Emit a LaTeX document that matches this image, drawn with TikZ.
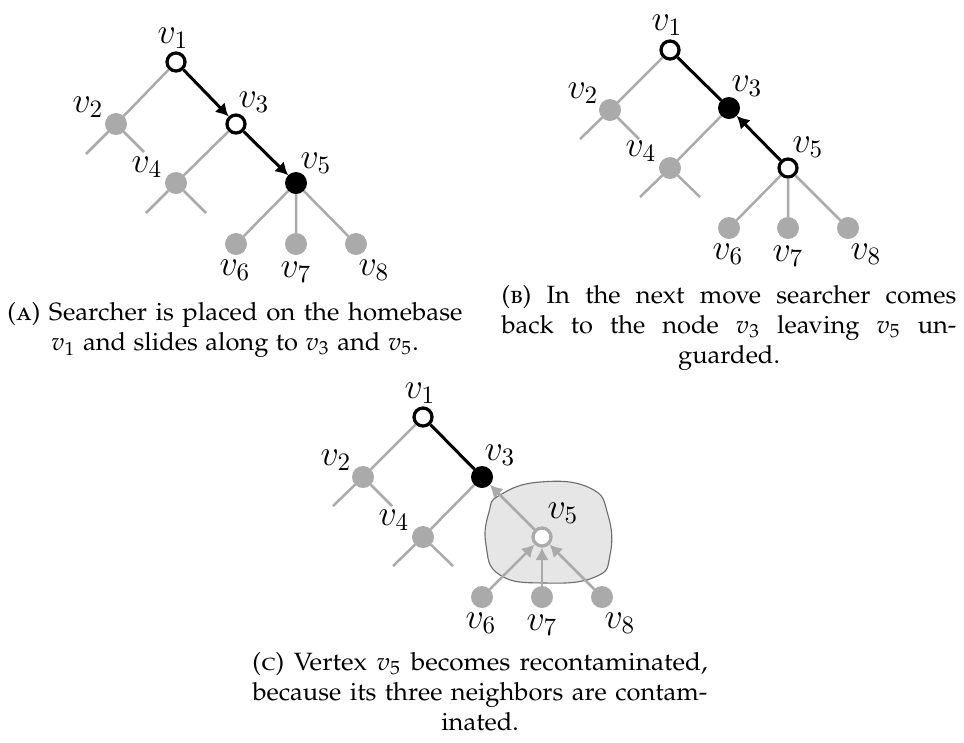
\documentclass[tikz,border=0pt]{standalone}
\usepackage[T1]{fontenc}
\usepackage[sc]{mathpazo}
\usetikzlibrary{arrows.meta}
% Computer Modern math italic for the vertex labels of the trees
\DeclareMathAlphabet{\cmit}{OML}{cmm}{m}{it}
\DeclareMathAlphabet{\cmup}{OT1}{cmr}{m}{n}
\newcommand\vlab[1]{$\cmit{v}_{\cmup{#1}}$}
% a justified caption line: set to width #2, then widened by factor #1 (about 182pt overall)
\newcommand\jline[3]{\scalebox{#1}[1]{\makebox[#2][s]{#3}}}
\definecolor{contam}{RGB}{170,170,170}
\definecolor{blobfill}{RGB}{230,230,230}
\definecolor{blobline}{RGB}{110,110,110}
\tikzset{
  vert/.style={circle, inner sep=0pt, outer sep=0pt, minimum size=8.8pt},
  dirty/.style={vert, fill=contam},
  guard/.style={vert, fill=black},
  clearv/.style={circle, inner sep=0pt, outer sep=0.65pt, minimum size=7.2pt,
                 draw=black, line width=1.3pt, fill=white},
  recont/.style={clearv, draw=contam},
  lbl/.style={inner sep=0pt, font=\fontsize{13.5}{16}\selectfont},
  gedge/.style={draw=contam, line width=1pt},
  bedge/.style={draw=black, line width=1.2pt},
  tipped/.style={-{Latex[length=5pt,width=5.5pt]}},
  blob/.style={draw=blobline, fill=blobfill, line width=0.45pt},
  capt/.style={inner sep=0pt, anchor=north, align=center,
               font=\fontsize{10}{12}\selectfont},
}
\begin{document}
\begin{tikzpicture}[x=0.4pt, y=-0.4pt]
\useasboundingbox (0,0) rectangle (964,742);

% ---------- (a) searcher slides from v1 to v5 ----------
\begin{scope}[shift={(176,62)}]
  \node[clearv] (a1) at (0,0) {};
  \node[dirty]  (a2) at (-60,62) {};
  \node[clearv] (a3) at (60,62) {};
  \node[dirty]  (a4) at (0,121) {};
  \node[guard]  (a5) at (120,121) {};
  \node[dirty]  (a6) at (60,182) {};
  \node[dirty]  (a7) at (120,182) {};
  \node[dirty]  (a8) at (180,182) {};
  \coordinate (a2l) at (-90,92);
  \coordinate (a2r) at (-32,90);
  \coordinate (a4l) at (-30,151);
  \coordinate (a4r) at (30,151);
  \draw[gedge] (a1) -- (a2) (a2) -- (a2l) (a2) -- (a2r)
               (a3) -- (a4) (a4) -- (a4l) (a4) -- (a4r)
               (a5) -- (a6) (a5) -- (a7) (a5) -- (a8);
  \draw[bedge, tipped] (a1) -- (a3);
  \draw[bedge, tipped] (a3) -- (a5);
  \node[lbl] (a1t) at (-3,-24) {\vlab1};
  \node[lbl] (a2t) at (-88,45) {\vlab2};
  \node[lbl] (a3t) at (78,40) {\vlab3};
  \node[lbl] (a4t) at (-29,105) {\vlab4};
  \node[lbl] (a5t) at (140,101) {\vlab5};
  \node[lbl] (a6t) at (59,208) {\vlab6};
  \node[lbl] (a7t) at (120,210) {\vlab7};
  \node[lbl] (a8t) at (198,208) {\vlab8};
\end{scope}
\node[capt] (capa) at (235,302) {%
  \jline{1.03}{176.7pt}{(\textsc{a}) Searcher is placed on the homebase}\\
  \scalebox{1.02}[1]{$v_1$ and slides along to $v_3$ and $v_5$.}};

% ---------- (b) searcher steps back to v3 ----------
\begin{scope}[shift={(670,50)}]
  \node[clearv] (b1) at (0,0) {};
  \node[dirty]  (b2) at (-60,60) {};
  \node[guard]  (b3) at (59,58) {};
  \node[dirty]  (b4) at (0,118) {};
  \node[clearv] (b5) at (118,118) {};
  \node[dirty]  (b6) at (59,178) {};
  \node[dirty]  (b7) at (118,178) {};
  \node[dirty]  (b8) at (178,178) {};
  \coordinate (b2l) at (-90,89);
  \coordinate (b2r) at (-31,89);
  \coordinate (b4l) at (-30,147);
  \coordinate (b4r) at (30,147);
  \draw[gedge] (b1) -- (b2) (b2) -- (b2l) (b2) -- (b2r)
               (b3) -- (b4) (b4) -- (b4l) (b4) -- (b4r)
               (b5) -- (b6) (b5) -- (b7) (b5) -- (b8);
  \draw[bedge] (b1) -- (b3);
  \draw[bedge, tipped] (b5) -- (b3);
  \node[lbl] (b1t) at (-3,-25) {\vlab1};
  \node[lbl] (b2t) at (-87,43) {\vlab2};
  \node[lbl] (b3t) at (77,36) {\vlab3};
  \node[lbl] (b4t) at (-29,101) {\vlab4};
  \node[lbl] (b5t) at (138,97) {\vlab5};
  \node[lbl] (b6t) at (58,204) {\vlab6};
  \node[lbl] (b7t) at (118,206) {\vlab7};
  \node[lbl] (b8t) at (196,204) {\vlab8};
\end{scope}
\node[capt] (capb) at (729,285) {%
  \jline{1.02}{178.4pt}{(\textsc{b}) In the next move searcher comes}\\
  \jline{1.02}{178.4pt}{back to the node $v_3$ leaving $v_5$ un-}\\
  \scalebox{1.02}[1]{guarded.}};

% ---------- (c) v5 is recontaminated ----------
\begin{scope}[shift={(423,417)}]
  \path[blob] plot[smooth cycle, tension=0.8] coordinates
    {(77,78) (117,65) (167,71) (185,98) (187,138) (172,160)
     (122,166) (77,158) (63,128) (66,95)};
  \node[clearv] (c1) at (0,0) {};
  \node[dirty]  (c2) at (-60,60) {};
  \node[guard]  (c3) at (59,60) {};
  \node[dirty]  (c4) at (0,120) {};
  \node[recont] (c5) at (119,120) {};
  \node[dirty]  (c6) at (59,180) {};
  \node[dirty]  (c7) at (119,180) {};
  \node[dirty]  (c8) at (179,180) {};
  \coordinate (c2l) at (-90,89);
  \coordinate (c2r) at (-31,89);
  \coordinate (c4l) at (-30,149);
  \coordinate (c4r) at (30,149);
  \draw[gedge] (c1) -- (c2) (c2) -- (c2l) (c2) -- (c2r)
               (c3) -- (c4) (c4) -- (c4l) (c4) -- (c4r);
  \draw[bedge] (c1) -- (c3);
  \draw[gedge, tipped] (c5) -- (c3);
  \draw[gedge, tipped] (c6) -- (c5);
  \draw[gedge, tipped] (c7) -- (c5);
  \draw[gedge, tipped] (c8) -- (c5);
  \node[lbl] (c1t) at (-3,-24) {\vlab1};
  \node[lbl] (c2t) at (-87,43) {\vlab2};
  \node[lbl] (c3t) at (77,38) {\vlab3};
  \node[lbl] (c4t) at (-29,103) {\vlab4};
  \node[lbl] (c5t) at (140,96) {\vlab5};
  \node[lbl] (c6t) at (58,206) {\vlab6};
  \node[lbl] (c7t) at (119,208) {\vlab7};
  \node[lbl] (c8t) at (197,206) {\vlab8};
\end{scope}
\node[capt] (capc) at (480,652) {%
  \jline{1.045}{174.2pt}{(\textsc{c}) Vertex $v_5$ becomes recontaminated,}\\
  \jline{1.02}{178.4pt}{because its three neighbors are contam-}\\
  \scalebox{1.02}[1]{inated.}};
\end{tikzpicture}
\end{document}
